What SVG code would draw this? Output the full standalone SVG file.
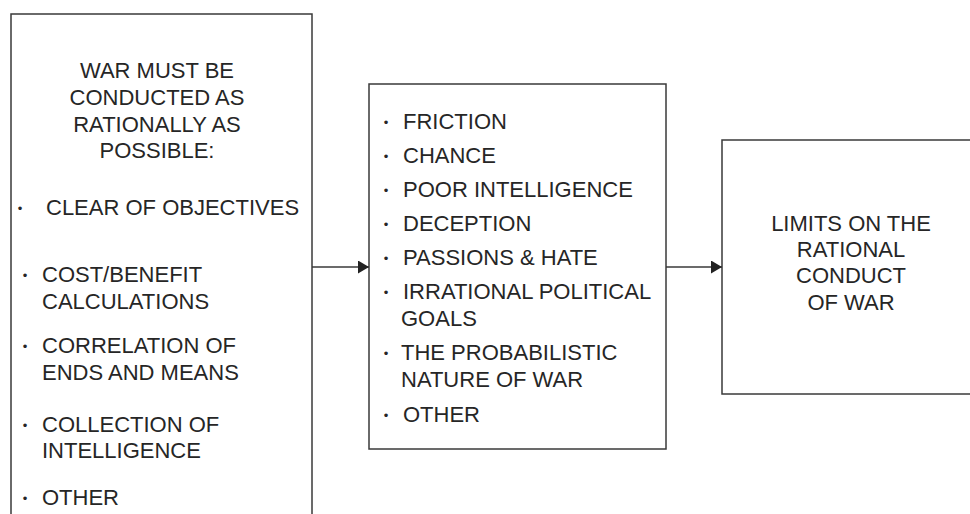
<svg xmlns="http://www.w3.org/2000/svg" width="970" height="514" viewBox="0 0 970 514">
<style>
.box{fill:#fff;stroke:#3a3a3a;stroke-width:1.5}
.t{font-family:"Liberation Sans",Arial,sans-serif;font-size:22px;fill:#262626}
.c{text-anchor:middle}
.b{font-family:"Liberation Sans",Arial,sans-serif;font-size:13px;fill:#262626;text-anchor:middle}
.con{stroke:#3a3a3a;stroke-width:1.5;fill:none}
</style>
<defs>
<marker id="arr" markerUnits="userSpaceOnUse" markerWidth="12" markerHeight="14" refX="11" refY="6.5" orient="auto">
<path d="M0,0 L11,6.5 L0,13 Z" fill="#222"/>
</marker>
</defs>
<rect width="970" height="514" fill="#fff"/>
<g id="node-rational">
<rect class="box" x="11" y="14" width="301" height="530"/>
<text class="t c" x="157" y="78">WAR MUST BE</text>
<text class="t c" x="157" y="105">CONDUCTED AS</text>
<text class="t c" x="157" y="132">RATIONALLY AS</text>
<text class="t c" x="157" y="158">POSSIBLE:</text>
<text class="b" x="20" y="213">•</text>
<text class="t" x="46" y="215">CLEAR OF OBJECTIVES</text>
<text class="b" x="25" y="280">•</text>
<text class="t" x="42" y="282">COST/BENEFIT</text>
<text class="t" x="42" y="309">CALCULATIONS</text>
<text class="b" x="25" y="351">•</text>
<text class="t" x="42" y="353">CORRELATION OF</text>
<text class="t" x="42" y="380">ENDS AND MEANS</text>
<text class="b" x="25" y="430">•</text>
<text class="t" x="42" y="432">COLLECTION OF</text>
<text class="t" x="42" y="458">INTELLIGENCE</text>
<text class="b" x="25" y="503">•</text>
<text class="t" x="42" y="505">OTHER</text>
</g>
<g id="node-limits">
<rect class="box" x="369" y="84" width="297" height="365"/>
<text class="b" x="386" y="127">•</text>
<text class="t" x="403" y="129">FRICTION</text>
<text class="b" x="386" y="161">•</text>
<text class="t" x="403" y="163">CHANCE</text>
<text class="b" x="386" y="195">•</text>
<text class="t" x="403" y="197">POOR INTELLIGENCE</text>
<text class="b" x="386" y="229">•</text>
<text class="t" x="403" y="231">DECEPTION</text>
<text class="b" x="386" y="263">•</text>
<text class="t" x="403" y="265">PASSIONS &amp; HATE</text>
<text class="b" x="386" y="297">•</text>
<text class="t" x="403" y="299">IRRATIONAL POLITICAL</text>
<text class="t" x="401" y="326">GOALS</text>
<text class="b" x="386" y="358">•</text>
<text class="t" x="401" y="360">THE PROBABILISTIC</text>
<text class="t" x="401" y="387">NATURE OF WAR</text>
<text class="b" x="386" y="420">•</text>
<text class="t" x="403" y="422">OTHER</text>
</g>
<g id="node-result">
<rect class="box" x="722" y="140" width="270" height="254"/>
<text class="t c" x="851" y="231">LIMITS ON THE</text>
<text class="t c" x="851" y="257">RATIONAL</text>
<text class="t c" x="851" y="283">CONDUCT</text>
<text class="t c" x="851" y="310">OF WAR</text>
</g>
<g id="connectors">
<line class="con" x1="312" y1="267" x2="369" y2="267" marker-end="url(#arr)"/>
<line class="con" x1="666" y1="267" x2="722" y2="267" marker-end="url(#arr)"/>
</g>
</svg>
